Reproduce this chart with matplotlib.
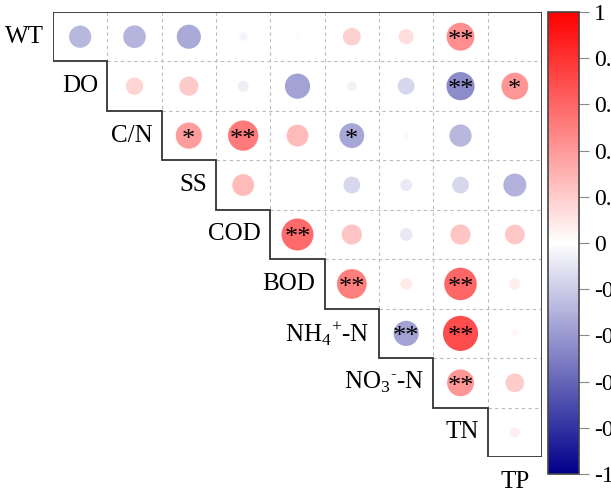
import matplotlib
matplotlib.use("Agg")
import matplotlib.pyplot as plt
import numpy as np
from matplotlib.colors import LinearSegmentedColormap, Normalize
from matplotlib.cm import ScalarMappable

plt.rcParams["font.family"] = ["Liberation Serif", "DejaVu Serif"]
plt.rcParams["mathtext.fontset"] = "custom"
plt.rcParams["mathtext.rm"] = "Liberation Serif"

labels = ["WT", "DO", "C/N", "SS", "COD", "BOD",
          r"NH$_\mathregular{4}$$^\mathregular{+}$-N",
          "NO$_\\mathregular{3}$$^\\mathregular{\u2010}$-N", "TN", "TP"]

# upper triangle, row i holds r with variables i+1 .. TP
r_vals = [
    [-0.28, -0.29, -0.33, -0.04, 0.02, 0.18, 0.13, 0.44, 0.01],
    [0.17, 0.21, -0.07, -0.36, -0.05, -0.16, -0.45, 0.41],
    [0.39, 0.52, 0.27, -0.35, 0.03, -0.28, 0.01],
    [0.27, 0.01, -0.16, -0.08, -0.16, -0.30],
    [0.58, 0.23, -0.09, 0.23, 0.22],
    [0.50, 0.08, 0.60, 0.07],
    [-0.36, 0.70, 0.03],
    [0.41, 0.20],
    [0.06],
]
sig = [
    ["", "", "", "", "", "", "", "**", ""],
    ["", "", "", "", "", "", "**", "*"],
    ["*", "**", "", "*", "", "", ""],
    ["", "", "", "", "", ""],
    ["**", "", "", "", ""],
    ["**", "", "**", ""],
    ["**", "**", ""],
    ["**", ""],
    [""],
]
cbar_ticks = [1, 0.8, 0.6, 0.4, 0.2, 0, -0.2, -0.4, -0.6, -0.8, -1]

cmap = LinearSegmentedColormap.from_list("bwr2", ["#00008B", "white", "#FF0000"])
norm = Normalize(-1, 1)
n = len(r_vals)

fig = plt.figure(figsize=(6.11, 4.92), dpi=100)
ax = fig.add_axes([53 / 611, 1 - 457 / 492, 489 / 611, 445 / 492])
ax.set_xlim(0, n)
ax.set_ylim(n, 0)
ax.axis("off")

# dashed inner grid
for k in range(1, n):
    ax.plot([k, n], [k, k], ls=(0, (3, 3)), color="#BBBBBB", lw=0.8, zorder=1)
    ax.plot([k, k], [0, k], ls=(0, (3, 3)), color="#BBBBBB", lw=0.8, zorder=1)

# staircase outline
px = [0, n, n]
py = [0, 0, n]
for k in range(n - 1, -1, -1):
    px += [k, k]
    py += [k + 1, k]
ax.plot(px, py, color="#333333", lw=1.3, zorder=3, solid_joinstyle="miter")

for i, row in enumerate(r_vals):
    for j, r in enumerate(row):
        x = i + j + 0.5
        y = i + 0.5
        ax.scatter(x, y, s=914 * abs(r), color=cmap(norm(r)), edgecolors="none", zorder=2)
        if sig[i][j]:
            ax.text(x, y + 0.08, sig[i][j], ha="center", va="center", fontsize=19, zorder=4)

for i, lab in enumerate(labels[:-1]):
    ax.text(i - 0.17, i + 0.5, lab, ha="right", va="center", fontsize=18)
ax.text(n - 0.5, n + 0.5, labels[-1], ha="center", va="center", fontsize=18, clip_on=False)

cax = fig.add_axes([548 / 611, 1 - 474 / 492, 31 / 611, 462 / 492])
cb = fig.colorbar(ScalarMappable(norm=norm, cmap=cmap), cax=cax)
cb.set_ticks(cbar_ticks)
cb.set_ticklabels([f"{t:g}" for t in cbar_ticks])
cb.outline.set_edgecolor("#444444")
cb.outline.set_linewidth(1.2)
cax.tick_params(length=7, color="#888888", labelsize=17, pad=4)

fig.savefig("out.png", dpi=100)
